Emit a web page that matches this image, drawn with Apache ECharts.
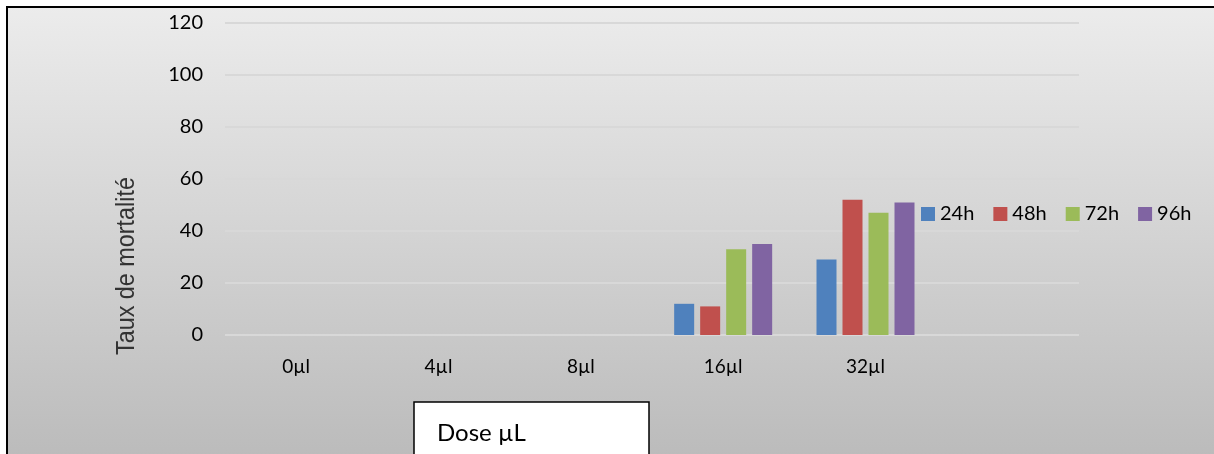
<!DOCTYPE html>
<html>
<head>
<meta charset="utf-8">
<script src="https://cdn.jsdelivr.net/npm/echarts@6/dist/echarts.min.js"></script>
<style>
  html, body { margin: 0; padding: 0; background: #fff; }
  #chart { width: 1214px; height: 454px; }
</style>
</head>
<body>
<div id="chart"></div>
<script>
// doses (the last empty slot is the spare category of the original sheet)
var categories = ['0µl', '4µl', '8µl', '16µl', '32µl', ''];
var series24h = [0, 0, 0, 12, 29, null];
var series48h = [0, 0, 0, 11, 52, null];
var series72h = [0, 0, 0, 33, 47, null];
var series96h = [0, 0, 0, 35, 51, null];
var seriesNames = ['24h', '48h', '72h', '96h'];
var yTicks = [0, 20, 40, 60, 80, 100, 120];

var colors = ['#4f81bd', '#c0504d', '#9bbb59', '#8064a2'];
var font = 'Lato, "Open Sans", sans-serif';

// the y title is a squeezed font in the original: fit it to ~178px long
var titleFont = '25px "Liberation Sans", sans-serif';
var ctx = document.createElement('canvas').getContext('2d');
ctx.font = titleFont;
var titleScale = 178 / ctx.measureText('Taux de mortalité').width;

var myChart = echarts.init(document.getElementById('chart'));

function bar(name, data) {
    return {
        name: name,
        type: 'bar',
        barWidth: 20,
        barGap: '30%',
        data: data
    };
}

myChart.setOption({
    animation: false,
    color: colors,
    grid: {
        left: 225,
        right: 135,
        top: 23,
        bottom: 119
    },
    graphic: [
        {
            type: 'rect',
            z: -10,
            silent: true,
            shape: { x: 7, y: 7, width: 1220, height: 460 },
            style: {
                fill: {
                    type: 'linear', x: 0, y: 0, x2: 0, y2: 1,
                    colorStops: [
                        { offset: 0, color: '#ececec' },
                        { offset: 1, color: '#bababa' }
                    ]
                },
                stroke: '#000',
                lineWidth: 2
            }
        },
        {
            type: 'text',
            x: 127,
            y: 266,
            rotation: Math.PI / 2,
            scaleX: titleScale,
            style: {
                text: 'Taux de mortalité',
                font: titleFont,
                fill: '#333',
                align: 'center',
                verticalAlign: 'middle'
            }
        },
        {
            type: 'rect',
            shape: { x: 414, y: 402, width: 235, height: 70 },
            style: { fill: '#fff', stroke: '#000', lineWidth: 1.5 }
        },
        {
            type: 'text',
            x: 437,
            y: 433,
            style: {
                text: 'Dose µL',
                font: '24px ' + font,
                fill: '#000',
                verticalAlign: 'middle'
            }
        }
    ],
    legend: {
        data: seriesNames,
        left: 916,
        top: 199,
        itemWidth: 14,
        itemHeight: 14,
        itemGap: 19,
        icon: 'rect',
        textStyle: { fontFamily: font, fontSize: 20, color: '#000' }
    },
    xAxis: {
        type: 'category',
        data: categories,
        axisLine: { show: false },
        axisTick: { show: false },
        axisLabel: { fontFamily: font, fontSize: 19, color: '#000', margin: 22 }
    },
    yAxis: {
        type: 'value',
        min: yTicks[0],
        max: yTicks[yTicks.length - 1],
        interval: 20,
        axisLine: { show: false },
        axisTick: { show: false },
        axisLabel: { fontFamily: font, fontSize: 20, color: '#000', margin: 22 },
        splitLine: { lineStyle: { color: '#d8d8d8', width: 2 } }
    },
    series: [
        bar(seriesNames[0], series24h),
        bar(seriesNames[1], series48h),
        bar(seriesNames[2], series72h),
        bar(seriesNames[3], series96h)
    ]
});
</script>
</body>
</html>
